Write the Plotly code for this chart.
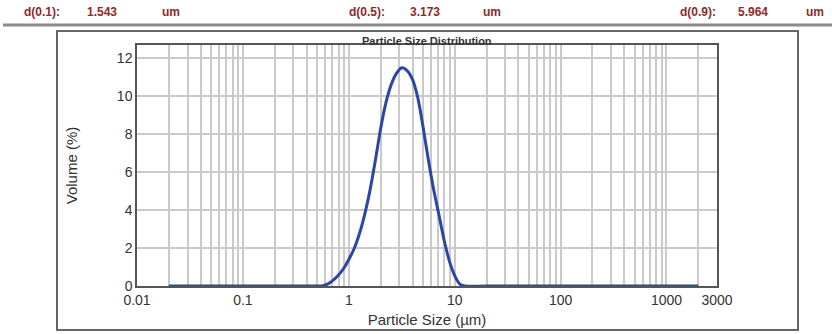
import plotly.graph_objects as go

# ---- data ----
sizes_um = [0.02, 0.1, 0.3, 0.5, 0.56, 0.63, 0.71, 0.8, 0.9, 1.0, 1.12, 1.26, 1.41, 1.58,
            1.78, 2.0, 2.24, 2.51, 2.82, 3.16, 3.55, 3.98, 4.47, 5.02, 5.64, 6.32, 7.10,
            7.96, 8.93, 10.0, 11.2, 12.6, 20, 100, 1000, 2000]
volume_pct = [0, 0, 0, 0, 0.0, 0.1, 0.3, 0.58, 0.95, 1.4, 1.95, 2.75, 3.75, 5.0,
              6.6, 8.3, 9.65, 10.6, 11.2, 11.5, 11.35, 10.9, 9.95, 8.4, 6.65, 5.1, 3.75,
              2.4, 1.3, 0.55, 0.1, 0.0, 0, 0, 0, 0]

header_labels = ["d(0.1):", "d(0.5):", "d(0.9):"]
header_values = ["1.543", "3.173", "5.964"]
header_units = ["um", "um", "um"]

x_label_vals = [0.01, 0.1, 1, 10, 100, 1000, 3000]
x_label_text = ["0.01", "0.1", "1", "10", "100", "1000", "3000"]
y_ticks = [0, 2, 4, 6, 8, 10, 12]

W, H = 832, 334
FONT = "Liberation Sans, Arial, sans-serif"
DARKRED = "#8e2a2a"

# gridline positions 1..9 x each decade
grid_vals = []
for k in range(-2, 4):
    for m in range(1, 10):
        v = m * 10 ** k
        if v <= 2000:
            grid_vals.append(v)
tickvals = grid_vals + [3000]
ticktext = []
for v in tickvals:
    txt = ""
    for lv, lt in zip(x_label_vals, x_label_text):
        if abs(v - lv) < 1e-9 * max(1, lv):
            txt = lt
    ticktext.append(txt)

fig = go.Figure()
fig.add_trace(go.Scatter(
    x=sizes_um, y=volume_pct, mode="lines",
    line=dict(color="#2b47a3", width=3, shape="spline", smoothing=0.8),
    showlegend=False, hoverinfo="x+y",
))

L, R, T, B = 137, 717, 45, 286
fig.update_layout(
    width=W, height=H,
    margin=dict(l=L, r=W - R, t=T, b=H - B),
    paper_bgcolor="white", plot_bgcolor="white",
    font=dict(family=FONT, size=14, color="#222"),
    xaxis=dict(
        type="log", range=[-2, 3.4771], automargin=False,
        tickvals=tickvals, ticktext=ticktext, tickangle=0,
        showgrid=True, gridcolor="#cacaca", gridwidth=1.5,
        showline=True, linecolor="#555", linewidth=1.5, mirror=True,
        ticks="", zeroline=False,
        title=dict(text="Particle Size (µm)", font=dict(size=15, color="#333"), standoff=8),
        tickfont=dict(size=14, color="#333"),
    ),
    yaxis=dict(
        range=[0, 12.7], tickvals=y_ticks, automargin=False,
        showgrid=True, gridcolor="#cacaca", gridwidth=1.5,
        showline=True, linecolor="#555", linewidth=1.5, mirror=True,
        ticks="", zeroline=False,
        title=dict(text="Volume (%)", font=dict(size=15, color="#333"), standoff=36),
        tickfont=dict(size=14, color="#333"),
    ),
)

def px_x(x):
    return (x - L) / (R - L)

def px_y(y):
    return (H - y - (H - B)) / (B - T)

# header texts
header_x = [(22, 85, 160), (347, 408, 481), (678, 736, 804)]
anns = []
for (xl, xv, xu), lab, val, unit in zip(header_x, header_labels, header_values, header_units):
    for xx, t in ((xl, lab), (xv, val), (xu, unit)):
        anns.append(dict(x=px_x(xx), y=px_y(12), xref="paper", yref="paper",
                         xanchor="left", yanchor="middle", showarrow=False,
                         text="<b>%s</b>" % t,
                         font=dict(family=FONT, size=12, color=DARKRED)))
# chart title
anns.append(dict(x=0.5, y=px_y(41), xref="paper", yref="paper",
                 xanchor="center", yanchor="middle", showarrow=False,
                 text="<b>Particle Size Distribution</b>",
                 font=dict(family=FONT, size=11, color="#333")))
fig.update_layout(annotations=anns)

# header rule and outer frame
shapes = [
    dict(type="line", xref="paper", yref="paper",
         x0=px_x(3), x1=px_x(832), y0=px_y(25), y1=px_y(25),
         line=dict(color="#8a8a8a", width=3)),
    dict(type="rect", xref="paper", yref="paper",
         x0=px_x(57), x1=px_x(798), y0=px_y(330), y1=px_y(31),
         line=dict(color="#666", width=2), layer="below"),
]
fig.update_layout(shapes=shapes)

fig.write_html("out.html")
